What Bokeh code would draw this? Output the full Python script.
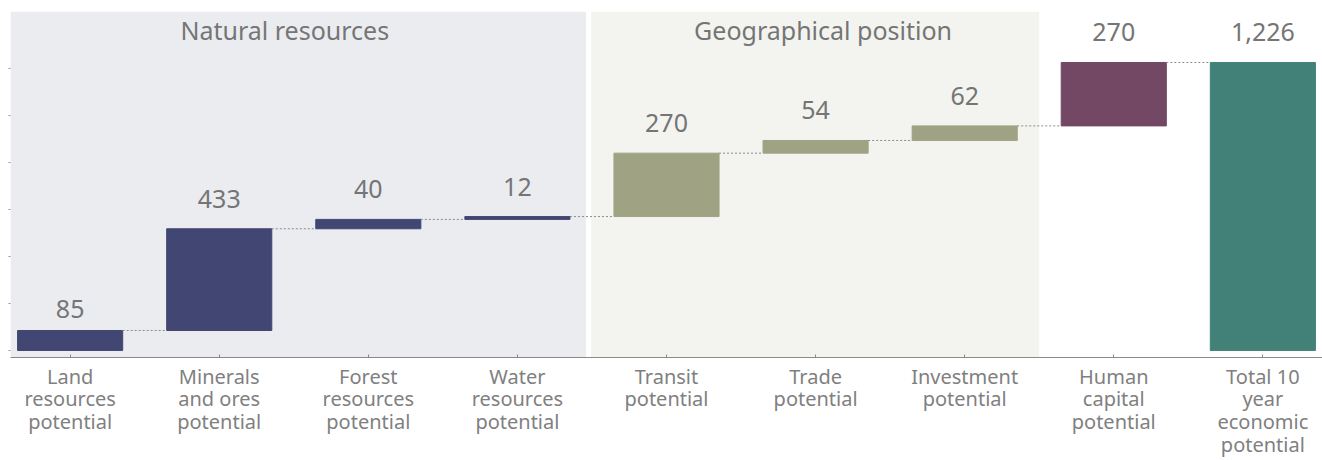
from bokeh.plotting import figure
from bokeh.models import FixedTicker, BoxAnnotation, Range1d, ColumnDataSource
from bokeh.core.properties import value
from bokeh.embed import file_html
from bokeh.resources import INLINE
import numpy as np

# ---- data ----
categories = [
    "Land\nresources\npotential",
    "Minerals\nand ores\npotential",
    "Forest\nresources\npotential",
    "Water\nresources\npotential",
    "Transit\npotential",
    "Trade\npotential",
    "Investment\npotential",
    "Human\ncapital\npotential",
    "Total 10\nyear\neconomic\npotential",
]
groups = ["natural"] * 4 + ["geo"] * 3 + ["human", "total"]
increments = [85, 433, 40, 12, 270, 54, 62, 270]
total_value = 1226
value_labels = ["85", "433", "40", "12", "270", "54", "62", "270", "1,226"]
region_titles = ["Natural resources", "Geographical position"]
y_ticks = [0, 200, 400, 600, 800, 1000, 1200]

# ---- styles ----
FONT = "Noto Sans"
group_colors = {"natural": "#424672", "geo": "#9fa384", "human": "#734864", "total": "#428178"}
TEXT = "#757575"

ends = np.cumsum(increments)
tops = list(ends) + [total_value]
bottoms = [0] + list(ends[:-1]) + [0]
xs = list(range(len(categories)))
colors = [group_colors[g] for g in groups]

p = figure(width=1322, height=460, output_backend="svg", toolbar_location=None,
           x_range=Range1d(-0.4, 8.4), y_range=Range1d(-30, 1443),
           min_border_left=10, min_border_right=0, min_border_top=11, min_border_bottom=0)
p.outline_line_color = None
p.grid.visible = False
p.background_fill_color = "white"

# shaded group regions
p.add_layout(BoxAnnotation(left=-0.4, right=3.46, fill_color="#ebecf0", fill_alpha=1,
                           line_color=None, level="underlay"))
p.add_layout(BoxAnnotation(left=3.495, right=6.5, fill_color="#f3f4f0", fill_alpha=1,
                           line_color=None, level="underlay"))

src = ColumnDataSource(dict(x=xs, top=tops, bottom=bottoms, color=colors, label=value_labels))
p.vbar(x="x", top="top", bottom="bottom", width=0.705, color="color", source=src)

# connectors
cx0 = [i + 0.3525 for i in range(len(categories) - 1)]
cx1 = [i + 1 - 0.3525 for i in range(len(categories) - 1)]
cy = list(ends)
p.segment(x0=cx0, y0=cy, x1=cx1, y1=cy, line_color="#8a8a8a", line_width=1, line_dash="2 2")

# value labels
offsets = [-21] + [-30] * (len(categories) - 1)
src.data["yoff"] = offsets
p.text(x="x", y="top", text="label", y_offset="yoff", source=src,
       text_align="center", text_baseline="alphabetic", text_color=TEXT,
       text_font=value(FONT), text_font_size="25px")

# region titles
p.text(x=[1.44, 5.05], y=[1320, 1320], text=region_titles, y_offset=-10,
       text_align="center", text_baseline="alphabetic", text_color=TEXT,
       text_font=value(FONT), text_font_size="25px")

# axes
xa = p.xaxis[0]
xa.ticker = FixedTicker(ticks=xs)
xa.major_label_overrides = {i: c for i, c in enumerate(categories)}
xa.minor_tick_line_color = None
xa.major_tick_in = 3
xa.major_tick_out = 0
xa.axis_line_color = "#8a8a8a"
xa.major_tick_line_color = "#8a8a8a"
xa.major_label_text_font = FONT
xa.major_label_text_font_size = "20px"
xa.major_label_text_line_height = 0.845
xa.major_label_text_color = "#808080"
xa.major_label_standoff = 5

ya = p.yaxis[0]
ya.ticker = FixedTicker(ticks=y_ticks)
ya.major_label_overrides = {t: "" for t in y_ticks}
ya.major_label_standoff = 0
ya.axis_line_color = None
ya.minor_tick_line_color = None
ya.major_tick_in = 0
ya.major_tick_out = 2
ya.major_tick_line_color = "#999999"

open("out.html", "w").write(file_html(p, INLINE))
